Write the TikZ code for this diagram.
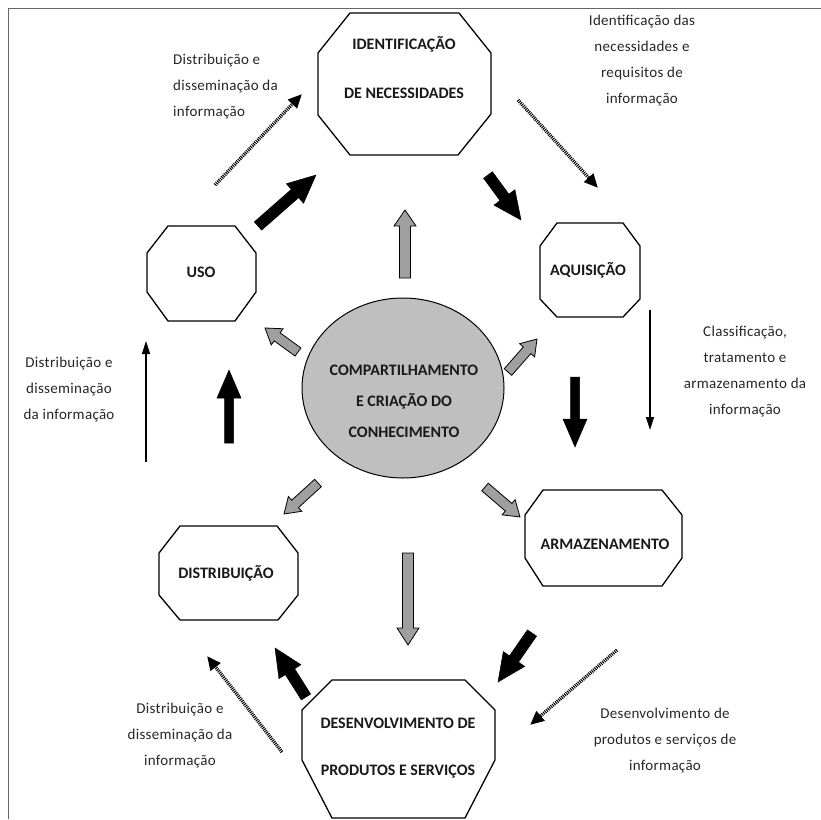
\documentclass[tikz,border=0pt]{standalone}
\usepackage{fontspec}
\setmainfont{Carlito}
\usetikzlibrary{calc,arrows.meta,shapes.geometric}
\tikzset{
 oct/.style={draw=black, line width=1.3pt, fill=white, line join=miter},
 ttl/.style={font=\fontsize{16}{18}\selectfont\bfseries, text=black!90, inner sep=0pt},
 lbl/.style={font=\fontsize{15}{26}\selectfont\addfontfeatures{LetterSpace=2}, text=black!85, inner sep=0pt, align=center},
 lbll/.style={lbl, align=left},
 grayarrow/.style={draw=black, line width=0.8pt, fill=gray!75, line join=miter},
 blackarrow/.style={draw=black, fill=black, line width=0.5pt, line join=miter},
 thinarrow/.style={line width=1.3pt, -{Triangle[length=13pt,width=8pt]}},
 dotarrow/.style={line width=3.5pt, dash pattern=on 1pt off 1pt, -{Triangle[length=14pt,width=12pt]}},
 frameline/.style={line width=0.8pt, draw=black!60},
}
\newcommand\blockarrow[6]{%
 \path (#2); \pgfgetlastxy{\bax}{\bay}%
 \path (#3); \pgfgetlastxy{\bbx}{\bby}%
 \pgfmathsetmacro\bang{atan2(\bby-\bay,\bbx-\bax)}%
 \pgfmathsetmacro\blen{veclen(\bbx-\bax,\bby-\bay)}%
 \pgfmathsetmacro\bneck{\blen-#6}%
 \begin{scope}[shift={(#2)},rotate=\bang]
  \draw[#1] (0pt,-#4pt) -- (\bneck pt,-#4pt) -- (\bneck pt,-#5pt) -- (\blen pt,0pt) -- (\bneck pt,#5pt) -- (\bneck pt,#4pt) -- (0pt,#4pt) -- cycle;
 \end{scope}}
\begin{document}
\begin{tikzpicture}[x=1pt,y=-1pt]
\useasboundingbox (0,0) rectangle (821,819);
% frame
\draw[frameline] (8,819) -- (8,8) -- (821,8);

% octagons
\draw[oct] (350,13) -- (459,13) -- (491,53) -- (491,114) -- (458,155) -- (350,155) -- (318,115) -- (318,53) -- cycle;
\node[ttl] (ident1) at (404,44) {IDENTIFICAÇÃO};
\node[ttl] (ident2) at (404,93) {DE NECESSIDADES};

\draw[oct] (168,226) -- (235,226) -- (256,253) -- (256,292) -- (235,321) -- (168,321) -- (147,292) -- (147,253) -- cycle;
\node[ttl] (uso) at (201,272) {USO};

\draw[oct] (557,223) -- (623,223) -- (640,246) -- (640,299) -- (623,317) -- (557,317) -- (540,299) -- (540,246) -- cycle;
\node[ttl] (aquis) at (588,270) {AQUISIÇÃO};

\draw[oct] (543,490) -- (662,490) -- (682,515) -- (682,558) -- (662,586) -- (543,586) -- (525,558) -- (525,515) -- cycle;
\node[ttl] (armaz) at (605,544) {ARMAZENAMENTO};

\draw[oct] (180,526) -- (277,526) -- (298,553) -- (298,595) -- (278,620) -- (180,620) -- (159,595) -- (159,553) -- cycle;
\node[ttl] (distr) at (226,573) {DISTRIBUIÇÃO};

\draw[oct] (332,680) -- (465,680) -- (495,710) -- (495,760) -- (465,818) -- (332,818) -- (302,760) -- (302,710) -- cycle;
\node[ttl] (desenv1) at (398,723) {DESENVOLVIMENTO DE};
\node[ttl] (desenv2) at (398,772) {PRODUTOS E SERVIÇOS};

% centre
\node[ellipse, draw=black, line width=1pt, fill=gray!50, minimum width=202pt, minimum height=180pt, inner sep=0pt] (centre) at (403,388) {};
\node[ttl, align=center, font=\fontsize{16}{31}\selectfont\bfseries] (centretext) at (404,401) {COMPARTILHAMENTO\\E CRIAÇÃO DO\\CONHECIMENTO};

% labels
\node[lbll, anchor=north west] (l1) at (173,54) {Distribuição e\\disseminação da\\informação};
\node[lbl, anchor=north] (l2) at (642,15) {Identificação das\\necessidades e\\requisitos de\\informação};
\node[lbl] (l3) at (69,390) {Distribuição e\\disseminação\\da informação};
\node[lbl] (l4) at (745,372) {Classificação,\\tratamento e\\armazenamento da\\informação};
\node[lbl] (l5) at (180,736) {Distribuição e\\disseminação da\\informação};
\node[lbl] (l6) at (665,741) {Desenvolvimento de\\produtos e serviços de\\informação};

% coordinates for arrows
\coordinate (g1s) at (405,278); \coordinate (g1e) at (405,210);
\coordinate (g2s) at (298,352); \coordinate (g2e) at (265,328);
\coordinate (g3s) at (508,372); \coordinate (g3e) at (537,339);
\coordinate (g4s) at (318,483); \coordinate (g4e) at (284,514);
\coordinate (g5s) at (485,487); \coordinate (g5e) at (520,517);
\coordinate (g6s) at (408,553); \coordinate (g6e) at (408,645);

\coordinate (b1s) at (258,226); \coordinate (b1e) at (316,175);
\coordinate (b2s) at (488,175); \coordinate (b2e) at (521,220);
\coordinate (b3s) at (575,377); \coordinate (b3e) at (575,447);
\coordinate (b4s) at (532,633); \coordinate (b4e) at (498,682);
\coordinate (b5s) at (306,697); \coordinate (b5e) at (275,648);
\coordinate (b6s) at (229,443); \coordinate (b6e) at (229,370);

\coordinate (t1s) at (146,462); \coordinate (t1e) at (146,341);
\coordinate (t2s) at (650,310); \coordinate (t2e) at (650,430);

\coordinate (d1s) at (215,185); \coordinate (d1e) at (302,94);
\coordinate (d2s) at (518,100); \coordinate (d2e) at (598,188);
\coordinate (d3s) at (617,650); \coordinate (d3e) at (530,725);
\coordinate (d4s) at (282,752); \coordinate (d4e) at (207,656);

% gray block arrows
\blockarrow{grayarrow}{g1s}{g1e}{5.5}{11}{16}
\blockarrow{grayarrow}{g2s}{g2e}{5}{10}{15}
\blockarrow{grayarrow}{g3s}{g3e}{5}{10}{15}
\blockarrow{grayarrow}{g4s}{g4e}{5}{10}{15}
\blockarrow{grayarrow}{g5s}{g5e}{5}{10}{15}
\blockarrow{grayarrow}{g6s}{g6e}{5.5}{11}{17}

% black block arrows
\blockarrow{blackarrow}{b1s}{b1e}{5.5}{13}{28}
\blockarrow{blackarrow}{b2s}{b2e}{5.5}{13}{28}
\blockarrow{blackarrow}{b3s}{b3e}{4.5}{12}{28}
\blockarrow{blackarrow}{b4s}{b4e}{5.5}{13}{28}
\blockarrow{blackarrow}{b5s}{b5e}{5.5}{13}{28}
\blockarrow{blackarrow}{b6s}{b6e}{4.5}{12}{28}

% thin arrows
\draw[thinarrow] (t1s) -- (t1e);
\draw[thinarrow] (t2s) -- (t2e);

% dotted arrows
\draw[dotarrow] (d1s) -- (d1e);
\draw[dotarrow] (d2s) -- (d2e);
\draw[dotarrow] (d3s) -- (d3e);
\draw[dotarrow] (d4s) -- (d4e);
\end{tikzpicture}
\end{document}
